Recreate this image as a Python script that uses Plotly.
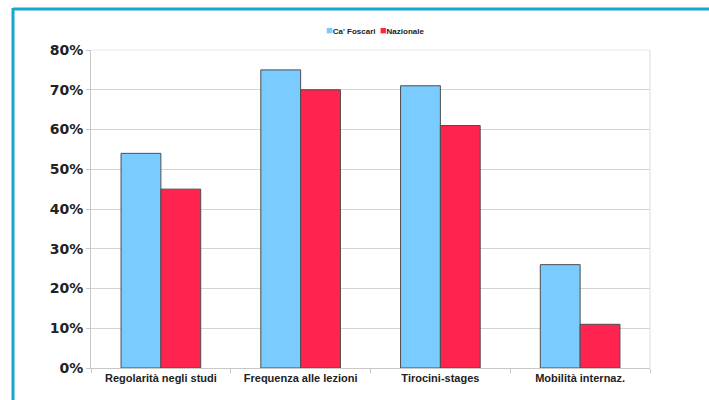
import plotly.graph_objects as go

categories = ["Regolarità negli studi", "Frequenza alle lezioni", "Tirocini-stages", "Mobilità internaz."]
series_names = ["Ca' Foscari", "Nazionale"]
ca_foscari = [0.54, 0.75, 0.71, 0.26]
nazionale = [0.45, 0.70, 0.61, 0.11]
y_ticks = [0, 0.1, 0.2, 0.3, 0.4, 0.5, 0.6, 0.7, 0.8]
colors = ["#7ACBFF", "#FF2450"]

W, H = 709, 400
L, R, T, B = 91, 650, 50, 368

fig = go.Figure()
fig.add_bar(name=series_names[0], x=categories, y=ca_foscari, showlegend=False,
            marker=dict(color=colors[0], line=dict(color="#4d4d4d", width=1)))
fig.add_bar(name=series_names[1], x=categories, y=nazionale, showlegend=False,
            marker=dict(color=colors[1], line=dict(color="#4d4d4d", width=1)))

def px_x(p):
    return (p - L) / (R - L)

def px_y(p):
    return (B - p) / (B - T)

legend_text = "&nbsp;&nbsp;".join(
    f"<span style='color:{c};font-size:11px'>■</span>{n}" for c, n in zip(colors, series_names)
)

fig.update_layout(
    width=W, height=H,
    margin=dict(l=L, r=W - R, t=T, b=H - B, pad=0),
    paper_bgcolor="white", plot_bgcolor="white",
    barmode="group", bargap=0.43, bargroupgap=0,
    font=dict(family="Liberation Sans, Arial, sans-serif", color="#222"),
    showlegend=False,
    annotations=[
        dict(text=legend_text, xref="paper", yref="paper", x=px_x(375), y=px_y(30),
             xanchor="center", yanchor="middle", showarrow=False,
             font=dict(size=8, family="Liberation Sans, Arial, sans-serif", weight="bold", color="#222")),
    ],
    shapes=[
        dict(type="line", xref="paper", yref="paper", x0=px_x(13), x1=px_x(709), y0=px_y(9), y1=px_y(9),
             line=dict(color="#19a6cc", width=3)),
        dict(type="line", xref="paper", yref="paper", x0=px_x(13), x1=px_x(13), y0=px_y(8), y1=px_y(400),
             line=dict(color="#19a6cc", width=3)),
        dict(type="line", xref="paper", yref="paper", x0=1, x1=1, y0=0, y1=1,
             line=dict(color="#dddddd", width=1)),
        dict(type="line", xref="paper", yref="paper", x0=0, x1=1, y0=1, y1=1,
             line=dict(color="#e6e6e6", width=1)),
    ],
)
fig.update_yaxes(range=[0, 0.8], tickvals=y_ticks, tickformat=".0%",
                 showgrid=True, gridcolor="#d4d4d4", gridwidth=1,
                 showline=True, linecolor="#c8c8c8", linewidth=1,
                 ticks="outside", ticklen=4, tickcolor="#c8c8c8",
                 tickfont=dict(size=14, family="DejaVu Sans, sans-serif", weight="bold", color="#222"),
                 zeroline=False, fixedrange=True)
fig.update_xaxes(showline=True, linecolor="#c8c8c8", linewidth=1,
                 ticks="outside", tickson="boundaries", ticklen=4, tickcolor="#c8c8c8",
                 tickfont=dict(size=11, family="Liberation Sans, Arial, sans-serif", weight="bold", color="#222"),
                 showgrid=False, fixedrange=True)

fig.write_html("out.html", config={"displayModeBar": False},
               post_script="document.body.style.margin='0';document.body.style.overflow='hidden';")
